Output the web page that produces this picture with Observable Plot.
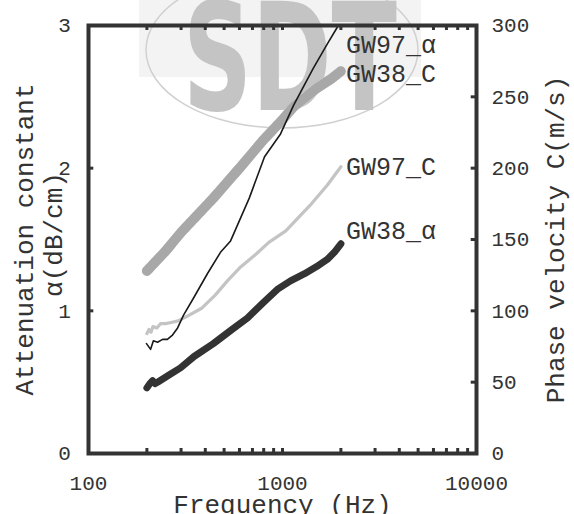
<!DOCTYPE html>
<html>
<head>
<meta charset="utf-8">
<script src="https://cdn.jsdelivr.net/npm/d3@7"></script>
<script src="https://cdn.jsdelivr.net/npm/@observablehq/plot@0.6"></script>
<style>
  html, body { margin: 0; padding: 0; background: #fff; }
  #wrap { position: relative; width: 574px; height: 514px; overflow: hidden; }
  #wm { position: absolute; left: 0; top: 0; }
  #chart { position: absolute; left: 0; top: 0; }
</style>
</head>
<body>
<div id="wrap">
  <svg id="wm" width="574" height="514">
    <rect x="139" y="0" width="282" height="77" fill="#f3f3f3"></rect>
    <ellipse cx="282" cy="50" rx="136" ry="78" fill="none" stroke="#d0d0d0" stroke-width="1.5"></ellipse>
    <text x="183" y="110" textLength="214" lengthAdjust="spacingAndGlyphs" font-family="DejaVu Sans Condensed, Liberation Sans Narrow, sans-serif" font-weight="bold" font-size="150" fill="#c4c4c4">SDT</text>
  </svg>
  <div id="chart"></div>
</div>
<script>
// ---- data ----
const freq38a  = [200, 207, 214, 220, 227, 260, 298, 350, 440, 550, 660, 800, 940, 1100, 1300, 1500, 1700, 1850, 2000];
const alpha38  = [0.46, 0.49, 0.51, 0.49, 0.50, 0.55, 0.60, 0.68, 0.77, 0.87, 0.95, 1.06, 1.15, 1.21, 1.26, 1.31, 1.36, 1.41, 1.47];

const freq97a  = [199, 209, 216, 227, 241, 255, 271, 288, 309, 348, 410, 479, 540, 674, 808, 977, 1140, 1440, 1700, 1940];
const alpha97  = [0.77, 0.73, 0.79, 0.78, 0.80, 0.80, 0.83, 0.88, 0.97, 1.09, 1.26, 1.41, 1.49, 1.79, 2.08, 2.24, 2.44, 2.70, 2.87, 3.00];

const freq38c  = [200, 250, 300, 440, 600, 800, 1000, 1140, 1500, 1800, 2000];
const vel38    = [128, 142, 155, 179, 200, 220, 234, 243, 256, 263, 268];

const freq97c  = [200, 205, 210, 215, 225, 235, 250, 270, 290, 320, 385, 450, 520, 600, 734, 850, 1040, 1200, 1410, 1700, 2000];
const vel97    = [84, 87, 85, 89, 88, 91, 91, 92, 93, 96, 102, 111, 121, 130, 140, 148, 156, 165, 175, 188, 201];

const seriesNames = ["GW97_\u03b1", "GW38_C", "GW97_C", "GW38_\u03b1"];
const xTickLabels = [100, 1000, 10000];
const yLeftTicks  = [0, 1, 2, 3];
const yRightTicks = [0, 50, 100, 150, 200, 250, 300];
const minorX = [200,300,400,500,600,700,800,900,1000,2000,3000,4000,5000,6000,7000,8000,9000];

// ---- tables ----
const zip = (xs, ys, k = 1) => xs.map((x, i) => ({x, y: ys[i] * k}));
const d38a = zip(freq38a, alpha38);
const d97a = zip(freq97a, alpha97);
const d38c = zip(freq38c, vel38, 0.01);   // right axis: 100 m/s = 1 unit
const d97c = zip(freq97c, vel97, 0.01);
const last = a => a[a.length - 1];

const FONT = "Liberation Mono, Courier New, DejaVu Sans Mono, monospace";
const INK = "#333";

function seriesLabel(name, end, dy) {
  return Plot.text([{name, x: 2000, y: end.y}], {x: "x", y: "y", dy, dx: 5, text: "name", textAnchor: "start", lineAnchor: "middle", fontSize: 25, fill: INK});
}

const chart = Plot.plot({
  width: 574,
  height: 514,
  marginLeft: 88,
  marginRight: 98,
  marginTop: 25,
  marginBottom: 61,
  style: {background: "transparent", fontFamily: FONT, color: INK, overflow: "visible"},
  x: {type: "log", domain: [100, 10000], axis: null},
  y: {domain: [0, 3], axis: null},
  marks: [
    // curves
    Plot.line(d38c, {x: "x", y: "y", stroke: "#e6e6e6", strokeWidth: 10}),
    Plot.line(d38c, {x: "x", y: "y", stroke: "#a8a8a8", strokeWidth: 10, strokeDasharray: "1 1.3"}),
    Plot.line(d97c, {x: "x", y: "y", stroke: "#c4c4c4", strokeWidth: 3.2}),
    Plot.line(d97a, {x: "x", y: "y", stroke: "#1a1a1a", strokeWidth: 1.6}),
    Plot.line(d38a, {x: "x", y: "y", stroke: "#333", strokeWidth: 7, strokeLinecap: "round", strokeLinejoin: "round"}),
    // frame
    Plot.frame({stroke: INK, strokeWidth: 4}),
    // inward ticks
    Plot.ruleX(minorX, {x: d => d, y1: 0, y2: 0.035, stroke: INK, strokeWidth: 3}),
    Plot.ruleX(minorX, {x: d => d, y1: 3, y2: 2.965, stroke: INK, strokeWidth: 3}),
    Plot.ruleY([1, 2], {y: d => d, x1: 100, x2: 106.5, stroke: INK, strokeWidth: 3}),
    Plot.ruleY(yRightTicks.slice(1, -1), {y: d => d / 100, x1: 10000, x2: 9390, stroke: INK, strokeWidth: 3}),
    // tick labels
    Plot.text(xTickLabels, {x: d => d, frameAnchor: "bottom", lineAnchor: "middle", dy: 30, text: d => String(d), fontSize: 21, fill: INK}),
    Plot.text(yLeftTicks, {y: d => d, frameAnchor: "left", textAnchor: "middle", dx: -24, text: d => String(d), fontSize: 21, fill: INK}),
    Plot.text(yRightTicks, {y: d => d / 100, frameAnchor: "right", dx: 15, textAnchor: "start", text: d => String(d), fontSize: 21, fill: INK}),
    // series labels
    seriesLabel(seriesNames[0], last(d97a), 19),
    seriesLabel(seriesNames[1], last(d38c), 3),
    seriesLabel(seriesNames[2], last(d97c), 0),
    seriesLabel(seriesNames[3], last(d38a), -13),
    // axis titles
    Plot.text(["Attenuation constant"], {frameAnchor: "left", textAnchor: "middle", lineAnchor: "middle", dx: -64, rotate: -90, text: d => d, fontSize: 26, fill: INK}),
    Plot.text(["\u03b1(dB/cm)"], {frameAnchor: "left", textAnchor: "middle", lineAnchor: "middle", dx: -35, dy: -5, rotate: -90, text: d => d, fontSize: 26, fill: INK}),
    Plot.text(["Phase velocity C(m/s)"], {frameAnchor: "right", textAnchor: "middle", lineAnchor: "middle", dx: 79, rotate: -90, text: d => d, fontSize: 26, fill: INK}),
    Plot.text(["Frequency (Hz)"], {frameAnchor: "bottom", lineAnchor: "middle", dy: 51, text: d => d, fontSize: 26, fill: INK})
  ]
});
document.getElementById("chart").appendChild(chart);
</script>
</body>
</html>
